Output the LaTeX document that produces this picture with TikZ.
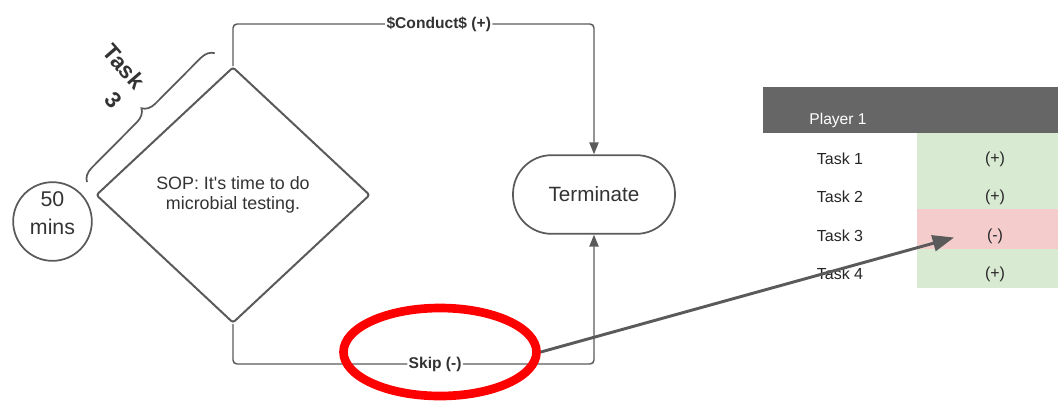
\documentclass[tikz,border=0pt]{standalone}
\usepackage{fontspec}
\setmainfont{Liberation Sans}
\usetikzlibrary{arrows.meta,shapes.geometric,decorations.pathreplacing}

\definecolor{linegray}{HTML}{5A5A5A}
\definecolor{headgray}{HTML}{666666}
\definecolor{okgreen}{HTML}{D9EAD3}
\definecolor{badred}{HTML}{F4CCCC}
\definecolor{txtgray}{HTML}{333333}

\tikzset{
  flow/.style={draw=linegray, line width=1.1pt, rounded corners=3pt, -{Triangle[length=9pt,width=7pt]}},
  lbl/.style={fill=white, inner sep=1pt, font=\bfseries\fontsize{11.7}{14}\selectfont, text=txtgray},
  cell/.style={font=\fontsize{12}{14}\selectfont, text=black!85},
}

\begin{document}
\begin{tikzpicture}[x=0.75pt, y=-0.75pt]
\useasboundingbox (0,0) rectangle (1058,405);

% Decision and end
\node[diamond, draw=linegray, line width=1.5pt, rounded corners=2pt, minimum width=205.5pt, minimum height=192pt,
  inner sep=0pt, align=center, text=txtgray, font=\fontsize{13.4}{16.5}\selectfont] (sop) at (233,195)
  {\raisebox{2pt}{\shortstack{SOP: It\textquotesingle s time to do\\[2pt]microbial testing.}}};
\node[circle, draw=linegray, line width=1.3pt, minimum size=59pt, inner sep=0pt,
  label={[align=center, yshift=6pt, font=\fontsize{16}{21}\selectfont, text=txtgray]center:50\\mins}] (time) at (52.5,221.5) {};
\node[draw=linegray, line width=1.3pt, rounded corners=29pt, minimum width=121.5pt, minimum height=59pt,
  font=\fontsize{15.5}{18}\selectfont, text=txtgray] (term) at (594,194.5) {Terminate};

% Branches
\draw[flow] (sop.north) -- ++(0,-42) -| node[lbl, pos=0.285] {\$Conduct\$ (+)} (term.north);
\draw[flow] (sop.south) -- ++(0,40) -| node[lbl, pos=0.28] {Skip (-)} (term.south);

% Task brace
\coordinate (braceA) at (87,182);
\coordinate (braceB) at (215,53);
\draw[linegray, line width=1.3pt, decorate, decoration={brace, amplitude=10pt}] (braceA) -- (braceB);
\node[rotate=-49, align=right, font=\bfseries\fontsize{17}{22}\selectfont, text=txtgray] (tasklbl) at (113,76) {Task\\3};

% Score table
\fill[headgray] (763,87) rectangle (1058,133);
\fill[okgreen] (917,133) rectangle (1058,288);
\fill[badred] (917,209) rectangle (1058,249);
\node[font=\fontsize{11.7}{14}\selectfont, text=white] (player) at (838,120) {Player 1};
\foreach \y/\res [count=\i] in {159/{(+)},197/{(+)},236/{(-)},274/{(+)}} {
  \node[cell] (task\i) at (840,\y) {Task \i};
  \node[cell] (res\i) at (995,\y) {\res};
}

% Highlight
\node[ellipse, draw=red, line width=6.5pt, minimum width=144.75pt, minimum height=66pt] (hl) at (440,352) {};
\coordinate (hit) at (954,237.5);
\draw[linegray, line width=2.2pt, -{Triangle[length=16pt,width=12pt]}] (hl.east) -- (hit);

\end{tikzpicture}
\end{document}
